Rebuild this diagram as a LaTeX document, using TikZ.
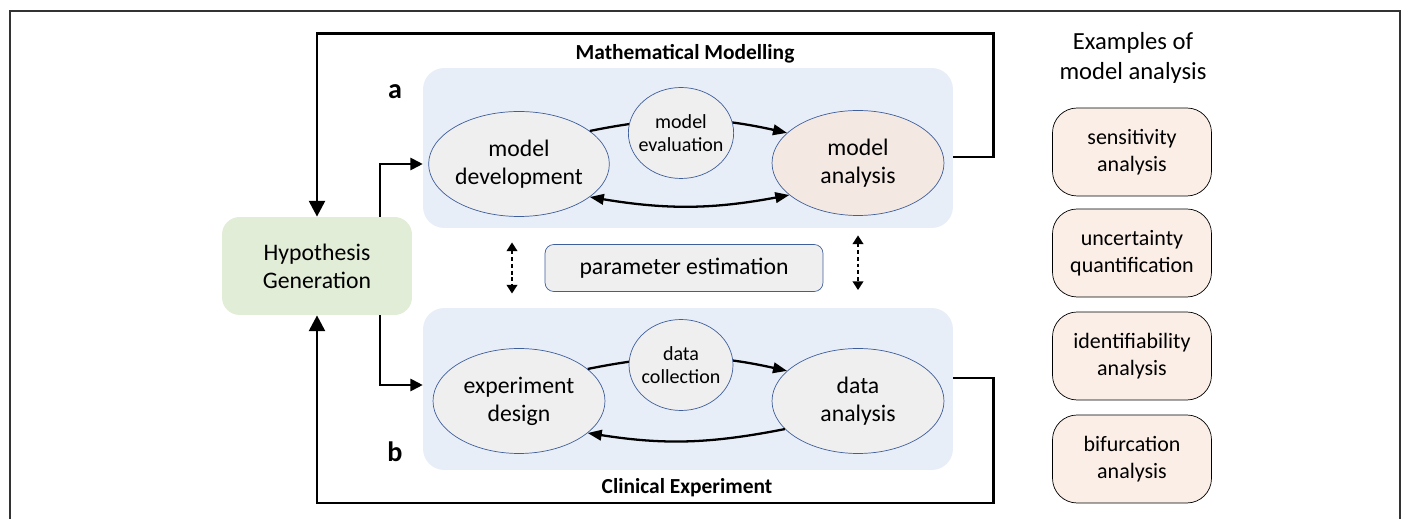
\documentclass[tikz,border=0pt]{standalone}
\usepackage{fontspec}
\setmainfont{Carlito}
\usetikzlibrary{arrows.meta}
\usetikzlibrary{shapes.geometric}
\usetikzlibrary{positioning}
\definecolor{panelblue}{HTML}{E8EEF8}
\definecolor{ovalgray}{HTML}{EFEFEF}
\definecolor{ovalline}{HTML}{3F5E9C}
\definecolor{hypgreen}{HTML}{E2EDD8}
\definecolor{peach}{HTML}{FBEEE6}
\definecolor{analysispeach}{HTML}{F4E9E2}
\definecolor{framegray}{HTML}{333333}
\tikzset{
	panel/.style={fill=panelblue,rounded corners=12pt,minimum width=10.6cm,minimum height=3.2cm,inner sep=0pt},
	oval/.style={ellipse,draw=ovalline,fill=ovalgray,thin,minimum width=3.44cm,minimum height=2.1cm,inner sep=0pt,align=center,font=\fontsize{13.5}{16}\selectfont},
	small oval/.style={ellipse,draw=ovalline,fill=ovalgray,thin,minimum width=2.08cm,minimum height=1.82cm,inner sep=-3pt,align=center,font=\fontsize{11.4}{13}\selectfont},
	example box/.style={draw,fill=peach,rounded corners=14pt,minimum width=3.18cm,minimum height=1.76cm,align=center,font=\fontsize{12.5}{15.5}\selectfont},
	title/.style={font=\bfseries\fontsize{12.2}{14}\selectfont},
	letter/.style={font=\bfseries\fontsize{16}{18}\selectfont},
	loop line/.style={line width=1.7pt,-{Triangle[length=9pt,width=9pt]}},
	feed line/.style={line width=1.1pt,-{Triangle[length=7pt,width=7pt]}},
	cycle arrow/.style={line width=1.3pt,-{Triangle[length=8pt,width=6pt]}},
	dot arrow/.style={line width=1.6pt,dash pattern=on 2.2pt off 1.6pt,{Triangle[length=5pt,width=6pt]}-{Triangle[length=5pt,width=6pt]}}
}

\begin{document}
\begin{tikzpicture}[x=0.02cm,y=0.02cm]
	\useasboundingbox (0,0) rectangle (1403,-519);
	% outer frame
	\draw[framegray,line width=0.6pt] (10,-530) -- (10,-11) -- (1400,-11) -- (1400,-530);

	% the two panels
	\node[panel] (toppanel) at (688,-148) {};
	\node[panel,minimum height=3.24cm] (botpanel) at (688,-389) {};
	\node[title] (mathtitle) at (685,-54) {Mathematical Modelling};
	\node[title] (clintitle) at (687,-488) {Clinical Experiment};
	\node[letter] (la) at (395,-92) {a};
	\node[letter] (lb) at (395,-452) {b};

	% modelling loop
	\node[oval] (dev) at (519,-164) {model\\development};
	\node[oval,fill=analysispeach] (ana) at (858,-163) {model\\analysis};
	\draw[cycle arrow] (dev.25) to[bend left=12] (ana.157);
	\draw[cycle arrow,{Triangle[length=8pt,width=6pt]}-{Triangle[length=8pt,width=6pt]}] (dev.-25) to[bend right=10] (ana.-155);
	\node[small oval] (eval) at (681,-133) {model\\evaluation};

	% experiment loop
	\node[oval] (design) at (519,-401) {experiment\\design};
	\node[oval] (dana) at (858,-401) {data\\analysis};
	\draw[cycle arrow] (design.25) to[bend left=12] (dana.157);
	\draw[cycle arrow] (dana.-159) to[bend left=10] (design.-25);
	\node[small oval] (collect) at (681,-365) {data\\collection};

	% parameter estimation
	\node[draw=ovalline,fill=ovalgray,thin,rounded corners=5pt,minimum width=5.56cm,minimum height=0.94cm,font=\fontsize{13.5}{16}\selectfont] (est) at (684,-268) {parameter estimation};
	\draw[dot arrow,shorten <=8pt,shorten >=8pt] ([xshift=-0.14cm]toppanel.south -| dev) -- ([xshift=-0.14cm]botpanel.north -| dev);
	\draw[dot arrow,shorten <=4pt,shorten >=10pt] (toppanel.south -| ana) -- (botpanel.north -| ana);

	% hypothesis generation and feedback
	\node[fill=hypgreen,rounded corners=10pt,minimum width=3.8cm,minimum height=1.96cm,align=center,font=\fontsize{13.5}{16}\selectfont] (hyp) at (317,-266) {Hypothesis\\Generation};
	\coordinate (top loop) at (993,-34);
	\coordinate (bot loop) at (993,-503);
	\draw[loop line] ([yshift=0.12cm]toppanel.east |- ana) -| (top loop) -| (hyp.north);
	\draw[loop line] ([yshift=0.46cm]botpanel.east |- dana) -| (bot loop) -| (hyp.south);
	\draw[feed line] ([xshift=-0.64cm]hyp.north east) |- (toppanel.west |- dev);
	\draw[feed line] ([xshift=-0.64cm]hyp.south east) |- ([yshift=0.32cm]botpanel.west |- design);

	% examples of model analysis
	\node[align=center,font=\fontsize{14}{17}\selectfont] (extitle) at (1133,-58) {Examples of\\model analysis};
	\node[example box] (sens) at (1132,-152) {sensitivity\\analysis};
	\node[example box] (uncert) at (1132,-253) {uncertainty\\quantification};
	\node[example box] (ident) at (1132,-356) {identifiability\\analysis};
	\node[example box] (bifur) at (1132,-459) {bifurcation\\analysis};
\end{tikzpicture}
\end{document}
